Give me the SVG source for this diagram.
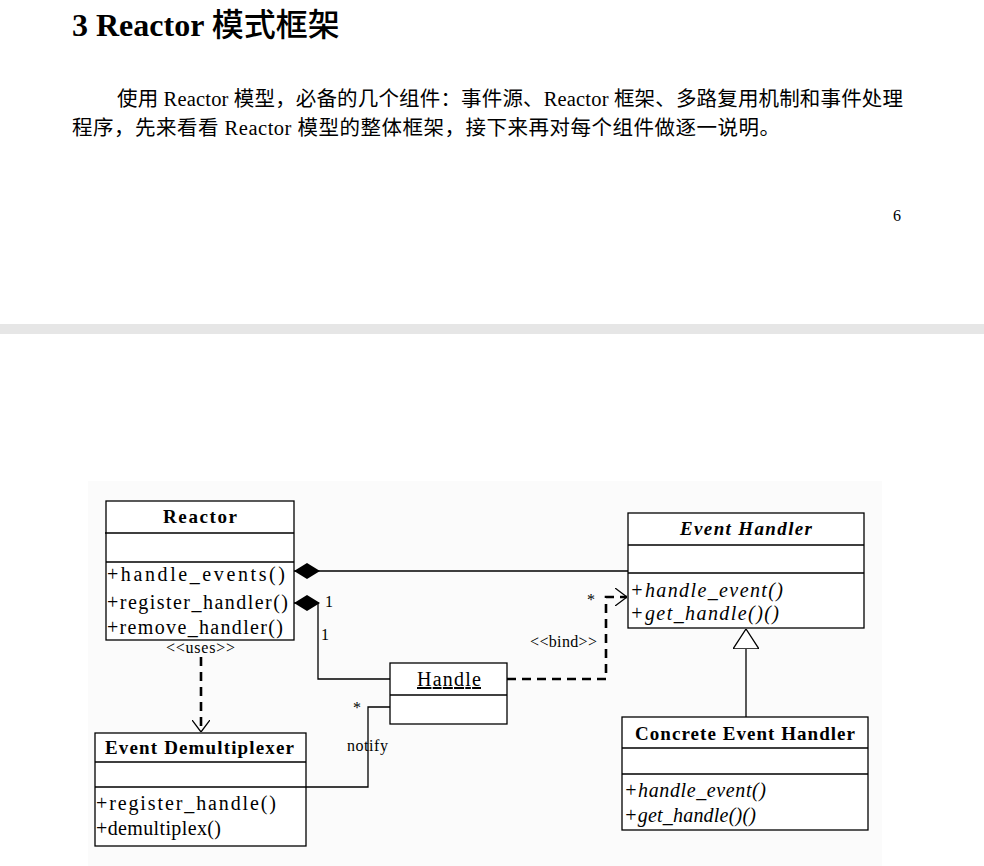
<svg xmlns="http://www.w3.org/2000/svg" width="984" height="866" viewBox="0 0 984 866">
<style>
.bg{fill:#ffffff}
.doc{font-family:"Liberation Serif","Noto Sans CJK SC",serif;fill:#000}
.box{fill:#ffffff;stroke:#000;stroke-width:1.3}
.sep{stroke:#000;stroke-width:1.3;fill:none}
.t{font-family:"Liberation Serif",serif;font-size:20px;fill:#000}
.b{font-weight:bold;font-size:19px}
.i{font-style:italic}
.lbl{font-family:"Liberation Serif",serif;font-size:16px;fill:#000}
.solid{fill:none;stroke:#000;stroke-width:1.3}
.dash{fill:none;stroke:#000;stroke-width:2.6;stroke-dasharray:9 6}
</style>
<defs>
<marker id="diamond" viewBox="0 0 26 16" refX="0" refY="8" markerWidth="26" markerHeight="16" markerUnits="userSpaceOnUse" orient="auto">
<path d="M0,8 L13,0 L26,8 L13,16 Z" fill="#000"/>
</marker>
<marker id="open" viewBox="0 0 12 18" refX="12" refY="9" markerWidth="12" markerHeight="18" markerUnits="userSpaceOnUse" orient="auto">
<path d="M0,0 L12,9 L0,18" fill="none" stroke="#000" stroke-width="1.3" stroke-dasharray="none"/>
</marker>
<marker id="tri" viewBox="0 0 20 26" refX="20" refY="13" markerWidth="20" markerHeight="26" markerUnits="userSpaceOnUse" orient="auto">
<path d="M20,13 L0,0 L0,26 Z" fill="#fff" stroke="#000" stroke-width="1.3"/>
</marker>
</defs>
<rect class="bg" x="0" y="0" width="984" height="866"/>
<g id="page-text">
<text class="doc" x="72" y="36" font-size="32"><tspan font-weight="bold">3 Reactor </tspan><tspan font-weight="500">模式框架</tspan></text>
<text class="doc" x="117" y="106" font-size="20.5" textLength="786" lengthAdjust="spacing">使用 Reactor 模型，必备的几个组件：事件源、Reactor 框架、多路复用机制和事件处理</text>
<text class="doc" x="72" y="135" font-size="20.5" textLength="708" lengthAdjust="spacing">程序，先来看看 Reactor 模型的整体框架，接下来再对每个组件做逐一说明。</text>
<text class="doc" x="893" y="221" font-size="16">6</text>
</g>
<rect x="0" y="324" width="984" height="10" fill="#e6e6e6"/>
<rect x="88" y="481" width="794" height="385" fill="#fbfbfb"/>
<g id="connectors">
<path class="solid" d="M294,571 L628,571" marker-start="url(#diamond)"/>
<path class="solid" d="M294,603 L318,603 L318,679 L390,679" marker-start="url(#diamond)"/>
<path class="dash" d="M507,679 L606,679 L606,597 L627,597" marker-end="url(#open)"/>
<path class="dash" d="M201,657 L201,732" marker-end="url(#open)"/>
<path class="solid" d="M306,787 L368,787 L368,707 L390,707"/>
<path class="solid" d="M746,717 L746,629" marker-end="url(#tri)"/>
<text class="lbl" x="325" y="607">1</text>
<text class="lbl" x="321" y="640">1</text>
<text class="lbl" x="587" y="605">*</text>
<text class="lbl" x="530" y="647" textLength="67" lengthAdjust="spacing">&lt;&lt;bind&gt;&gt;</text>
<text class="lbl" x="353" y="713">*</text>
<text class="lbl" x="347" y="751" textLength="41" lengthAdjust="spacing">notify</text>
<text class="lbl" x="166" y="653" font-size="15" textLength="69" lengthAdjust="spacing">&lt;&lt;uses&gt;&gt;</text>
</g>
<g id="reactor">
<rect class="box" x="106" y="501" width="188" height="139"/>
<path class="sep" d="M105,533 H294 M106,562 H294"/>
<text class="t b" x="163" y="523" textLength="74" lengthAdjust="spacing">Reactor</text>
<text class="t" x="107" y="581" textLength="178" lengthAdjust="spacing">+handle_events()</text>
<text class="t" x="107" y="609" textLength="181" lengthAdjust="spacing">+register_handler()</text>
<text class="t" x="107" y="634" textLength="176" lengthAdjust="spacing">+remove_handler()</text>
</g>
<g id="event-handler">
<rect class="box" x="628" y="513" width="236" height="115"/>
<path class="sep" d="M628,545 H864 M628,573 H864"/>
<text class="t b i" x="680" y="535" textLength="132" lengthAdjust="spacing">Event Handler</text>
<text class="t i" x="630" y="597" textLength="153" lengthAdjust="spacing">+handle_event()</text>
<text class="t i" x="630" y="620" textLength="149" lengthAdjust="spacing">+get_handle()()</text>
</g>
<g id="handle">
<rect class="box" x="390" y="663" width="117" height="61"/>
<path class="sep" d="M390,695 H507"/>
<text class="t" x="417" y="686" textLength="64" lengthAdjust="spacing" text-decoration="underline">Handle</text>
</g>
<g id="event-demultiplexer">
<rect class="box" x="95" y="733" width="211" height="113"/>
<path class="sep" d="M95,762 H306 M95,787 H306"/>
<text class="t b" x="105" y="754" textLength="189" lengthAdjust="spacing">Event Demultiplexer</text>
<text class="t" x="96" y="810" textLength="180" lengthAdjust="spacing">+register_handle()</text>
<text class="t" x="96" y="835" textLength="125" lengthAdjust="spacing">+demultiplex()</text>
</g>
<g id="concrete-event-handler">
<rect class="box" x="622" y="717" width="246" height="113"/>
<path class="sep" d="M622,748 H868 M622,774 H868"/>
<text class="t b" x="635" y="740" textLength="220" lengthAdjust="spacing">Concrete Event Handler</text>
<text class="t i" x="624" y="797" textLength="142" lengthAdjust="spacing">+handle_event()</text>
<text class="t i" x="624" y="822" textLength="132" lengthAdjust="spacing">+get_handle()()</text>
</g>
</svg>
